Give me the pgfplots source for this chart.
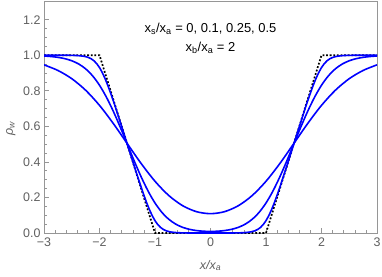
\documentclass[border=0pt]{standalone}
\usepackage{fontspec}
\setmainfont{Liberation Sans}
\usepackage{pgfplots}
\pgfplotsset{compat=1.18}
\definecolor{framegray}{RGB}{150,150,150}
\definecolor{labelgray}{RGB}{95,95,95}
\begin{document}
\begin{tikzpicture}
\begin{axis}[
  scale only axis,
  width=333bp, height=232bp,
  xmin=-3, xmax=3, ymin=0, ymax=1.305,
  xtick={-3,-2,-1,0,1,2,3},
  xticklabels={−3,−2,−1,0,1,2,3},
  ytick={0,0.2,0.4,0.6,0.8,1.0,1.2},
  yticklabels={0.0,0.2,0.4,0.6,0.8,1.0,1.2},
  minor x tick num=4,
  minor y tick num=3,
  xtick pos=bottom, ytick pos=left,
  tick align=inside,
  major tick length=5bp, minor tick length=2.8bp,
  every tick/.style={framegray, line width=0.6bp},
  axis line style={framegray, line width=0.8bp},
  tick label style={font=\fontsize{12.5}{12.5}\selectfont, text=labelgray},
  xticklabel style={yshift=-1bp},
  xlabel={\textit{x/x\textsubscript{a}}},
  ylabel={\textit{ρ\textsubscript{w}}},
  label style={font=\fontsize{12.5}{12.5}\selectfont, text=labelgray},
  xlabel style={at={(axis description cs:0.5,-0.14)}, anchor=center},
  ylabel style={at={(axis description cs:-0.10,0.45)}, anchor=center, rotate=0},
  clip=true,
]
% xs/xa = 0 (dotted)
\addplot[black, line width=1.7bp, dash pattern=on 1.8bp off 1.8bp] coordinates {
(-3,1) (-2,1) (-1,0) (1,0) (2,1) (3,1)};
% xs/xa = 0.1
\addplot[blue, line width=1.6bp] coordinates {
(-3,1.0) (-2.8,1.0) (-2.6,0.9998) (-2.5,0.9993) (-2.4,0.9982) (-2.3,0.9951) (-2.25,0.9921) (-2.2,0.9873) (-2.15,0.9799) (-2.1,0.9687) (-2.05,0.9526) (-2,0.9307) (-1.95,0.9026) (-1.9,0.8687) (-1.85,0.8299) (-1.8,0.7873) (-1.75,0.7422) (-1.7,0.6952) (-1.65,0.6472) (-1.6,0.5984) (-1.5,0.5) (-1.4,0.4016) (-1.35,0.3528) (-1.3,0.3049) (-1.25,0.2579) (-1.2,0.2127) (-1.15,0.1701) (-1.1,0.1313) (-1.05,0.0974) (-1,0.0693) (-0.95,0.0474) (-0.9,0.0313) (-0.85,0.0201) (-0.8,0.0127) (-0.75,0.0079) (-0.7,0.0049) (-0.6,0.0018) (-0.5,0.0007) (-0.4,0.0002) (-0.2,0.0) (0,0.0)
(0.2,0.0) (0.4,0.0002) (0.5,0.0007) (0.6,0.0018) (0.7,0.0049) (0.75,0.0079) (0.8,0.0127) (0.85,0.0201) (0.9,0.0313) (0.95,0.0474) (1,0.0693) (1.05,0.0974) (1.1,0.1313) (1.15,0.1701) (1.2,0.2127) (1.25,0.2579) (1.3,0.3049) (1.35,0.3528) (1.4,0.4016) (1.5,0.5) (1.6,0.5984) (1.65,0.6472) (1.7,0.6952) (1.75,0.7422) (1.8,0.7873) (1.85,0.8299) (1.9,0.8687) (1.95,0.9026) (2,0.9307) (2.05,0.9526) (2.1,0.9687) (2.15,0.9799) (2.2,0.9873) (2.25,0.9921) (2.3,0.9951) (2.4,0.9982) (2.5,0.9993) (2.6,0.9998) (2.8,1.0) (3,1.0)};
% xs/xa = 0.25
\addplot[blue, line width=1.6bp, smooth] coordinates {
(-3,0.9956) (-2.875,0.9927) (-2.75,0.9881) (-2.625,0.9807) (-2.5,0.9689) (-2.375,0.9507) (-2.25,0.9234) (-2.125,0.8842) (-2,0.8313) (-1.875,0.7639) (-1.75,0.6838) (-1.625,0.5944) (-1.5,0.5000) (-1.375,0.4057) (-1.25,0.3162) (-1.125,0.2361) (-1,0.1688) (-0.875,0.1159) (-0.75,0.0769) (-0.625,0.0497) (-0.5,0.0317) (-0.375,0.0204) (-0.25,0.0136) (-0.125,0.0100) (0,0.0089)
(0.125,0.0100) (0.25,0.0136) (0.375,0.0204) (0.5,0.0317) (0.625,0.0497) (0.75,0.0769) (0.875,0.1159) (1,0.1688) (1.125,0.2361) (1.25,0.3162) (1.375,0.4057) (1.5,0.5000) (1.625,0.5944) (1.75,0.6838) (1.875,0.7639) (2,0.8313) (2.125,0.8842) (2.25,0.9234) (2.375,0.9507) (2.5,0.9689) (2.625,0.9807) (2.75,0.9881) (2.875,0.9927) (3,0.9956)};
% xs/xa = 0.5
\addplot[blue, line width=1.6bp, smooth] coordinates {
(-3,0.9458) (-2.75,0.9144) (-2.5,0.8681) (-2.25,0.8031) (-2,0.7180) (-1.75,0.6154) (-1.5,0.5029) (-1.25,0.3911) (-1,0.2910) (-0.75,0.2104) (-0.5,0.1533) (-0.25,0.1198) (0,0.1088)
(0.25,0.1198) (0.5,0.1533) (0.75,0.2104) (1,0.2910) (1.25,0.3911) (1.5,0.5029) (1.75,0.6154) (2,0.7180) (2.25,0.8031) (2.5,0.8681) (2.75,0.9144) (3,0.9458)};
\node[font=\fontsize{13}{13}\selectfont, anchor=center] at (axis cs:0,1.15) {x\textsubscript{s}/x\textsubscript{a} = 0, 0.1, 0.25, 0.5};
\node[font=\fontsize{13}{13}\selectfont, anchor=center] at (axis cs:0,1.04) {x\textsubscript{b}/x\textsubscript{a} = 2};
\end{axis}
\pgfresetboundingbox
\path[use as bounding box] ([shift={(-44bp,-43bp)}]current axis.south west) rectangle ([shift={(5bp,1bp)}]current axis.north east);
\end{tikzpicture}
\end{document}
